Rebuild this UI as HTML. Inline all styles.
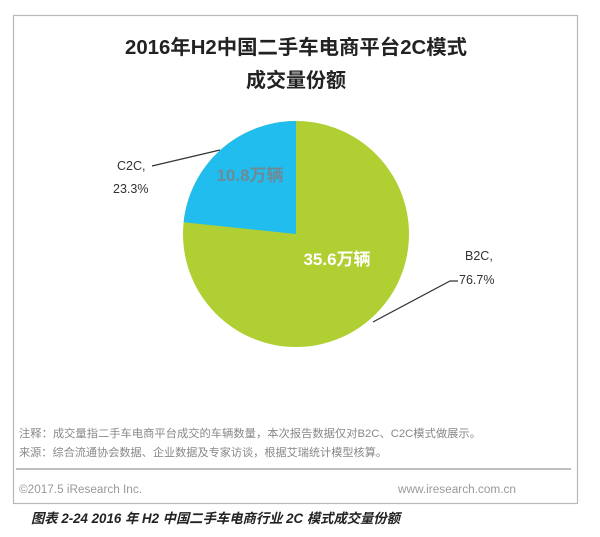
<!DOCTYPE html>
<html><head><meta charset="utf-8"><style>
body{margin:0;background:#fff;width:600px;height:537px;overflow:hidden;font-family:"Liberation Sans","Noto Sans CJK SC",sans-serif}
</style></head><body>
<svg width="600" height="537" xmlns="http://www.w3.org/2000/svg" style="position:absolute;left:0;top:0">
<rect x="13.5" y="15.5" width="564" height="488" fill="#fff" stroke="#b8b8b8" stroke-width="1.2"/>
<text x="296" y="54" text-anchor="middle" font-size="20" font-weight="bold" fill="#222" textLength="342" lengthAdjust="spacingAndGlyphs" font-family="Liberation Sans,Noto Sans CJK SC,sans-serif">2016年H2中国二手车电商平台2C模式</text>
<text x="296" y="87" text-anchor="middle" font-size="20" font-weight="bold" fill="#222" font-family="Liberation Sans,Noto Sans CJK SC,sans-serif">成交量份额</text>
<circle cx="296" cy="234" r="113" fill="#b0cf33"/>
<path d="M296,234 L296,121 A113,113 0 0 0 183.6,222.2 Z" fill="#20bdee"/>
<text x="250" y="181" text-anchor="middle" font-size="17" font-weight="bold" fill="#6f8a96" font-family="Liberation Sans,Noto Sans CJK SC,sans-serif">10.8万辆</text>
<text x="337" y="265" text-anchor="middle" font-size="17" font-weight="bold" fill="#fff" font-family="Liberation Sans,Noto Sans CJK SC,sans-serif">35.6万辆</text>
<polyline points="152,166 220,150" fill="none" stroke="#333" stroke-width="1.2"/>
<polyline points="458,281 450,281 373,322" fill="none" stroke="#333" stroke-width="1.2"/>
<g font-size="12.5" fill="#333" font-family="Liberation Sans,sans-serif">
<text x="117" y="170">C2C,</text><text x="113" y="193">23.3%</text>
<text x="465" y="260">B2C,</text><text x="459" y="284">76.7%</text>
</g>
<g font-size="11" fill="#888" font-family="Liberation Sans,Noto Sans CJK SC,sans-serif">
<text x="19" y="437" textLength="462" lengthAdjust="spacingAndGlyphs">注释：成交量指二手车电商平台成交的车辆数量，本次报告数据仅对B2C、C2C模式做展示。</text>
<text x="19" y="456" textLength="368" lengthAdjust="spacingAndGlyphs">来源：综合流通协会数据、企业数据及专家访谈，根据艾瑞统计模型核算。</text>
</g>
<line x1="16" y1="469" x2="571" y2="469" stroke="#999" stroke-width="1.2"/>
<text x="19" y="493" font-size="11.5" fill="#999" textLength="123" lengthAdjust="spacingAndGlyphs" font-family="Liberation Sans,sans-serif">©2017.5 iResearch Inc.</text>
<text x="398" y="493" font-size="11.5" fill="#999" textLength="118" lengthAdjust="spacingAndGlyphs" font-family="Liberation Sans,sans-serif">www.iresearch.com.cn</text>
<text x="31" y="523" font-size="13.5" font-style="italic" font-weight="bold" fill="#222" textLength="369" lengthAdjust="spacingAndGlyphs" font-family="Liberation Sans,Noto Sans CJK SC,sans-serif">图表 2-24   2016 年 H2 中国二手车电商行业 2C 模式成交量份额</text>
</svg>
</body></html>
